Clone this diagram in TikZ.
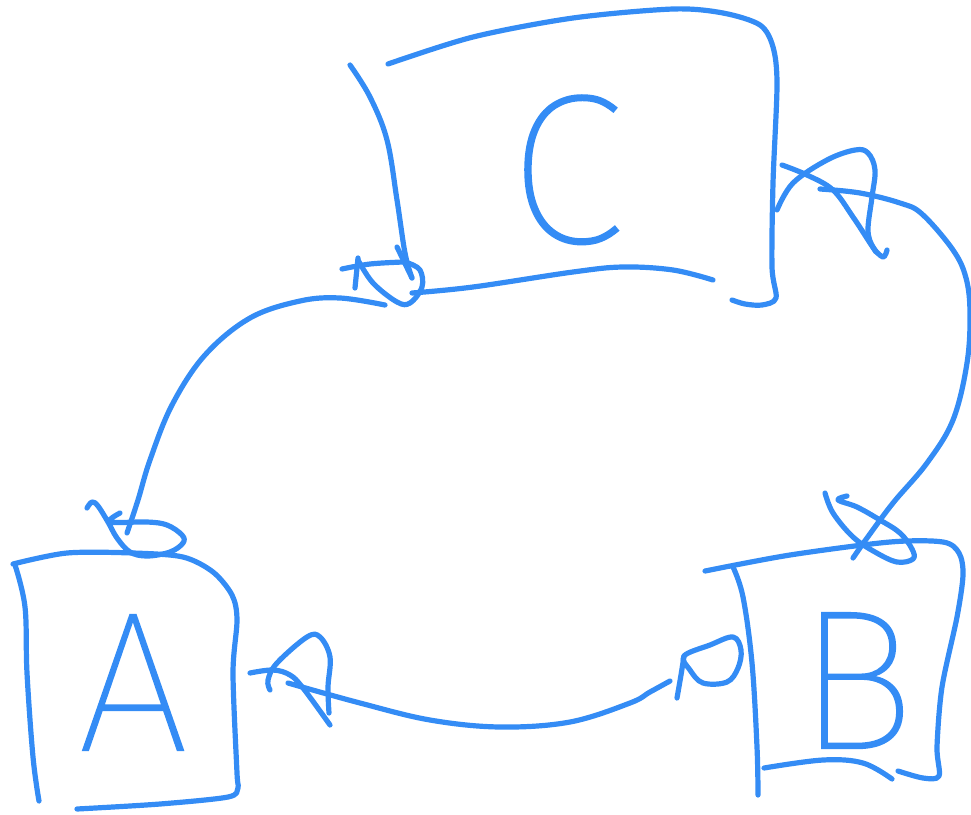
\documentclass[tikz,border=0pt]{standalone}
\usepackage{fontspec}
\usepackage{tikz}
\definecolor{sketchblue}{RGB}{52,140,245}
% thin sans for the box letters: first installed face of a list
\newcommand\pickletterfont[2]{\IfFontExistsTF{#1}{\newfontfamily\letterfont{#1}[FakeBold=1.2]}{#2}}
\pickletterfont{Fira Sans Thin}{%
 \pickletterfont{FiraSans-Thin.otf}{%
  \pickletterfont{FiraSans-Thin.ttf}{%
   \pickletterfont{Poppins Thin}{%
    \pickletterfont{Lato Thin}{%
     \pickletterfont{Lato Hairline}{%
      \pickletterfont{Fira Sans Light}{%
       \pickletterfont{Poppins Light}{%
        \pickletterfont{Open Sans Light}{%
         \newcommand\letterfont{\sffamily}}}}}}}}}}
\begin{document}
\begin{tikzpicture}[x=1pt,y=-1pt,
  ink/.style={draw=sketchblue, line width=5.2pt, line cap=round, line join=round},
  letter/.style={text=sketchblue, anchor=base, inner sep=0pt,
    font=\letterfont\fontsize{198}{198}\selectfont}]
\useasboundingbox (0,0) rectangle (971,814);

% ---- letters inside the three boxes ----
\node[letter] (A) at (133,750) {A};
\node[letter] (B) at (856,748) {B};
\node[letter, font=\letterfont\fontsize{212}{212}\selectfont] (C) at (566,242) {C};

% ---- connector end points ----
\coordinate (CtoAstart) at (385,305);
\coordinate (CtoAend)   at (127,533);
\coordinate (CtoBstart) at (820,189);
\coordinate (CtoBend)   at (853,558);
\coordinate (AtoBstart) at (288,683);
\coordinate (AtoBend)   at (670,681);

% ---- box C ----
\draw[ink] plot[smooth, tension=0.6] coordinates {(350,65) (370,97) (387,140) (397,200) (405,253) (412,278)};
\draw[ink] plot[smooth, tension=0.5] coordinates {(388,64) (473,37) (573,18) (673,9) (723,13) (760,25) (773,47) (777,85) (773,183) (772,267) (776,298) (762,305) (745,304) (732,300)};
\draw[ink] plot[smooth, tension=0.6] coordinates {(412,293) (473,287) (573,272) (623,267) (673,270) (713,280)};

% ---- box A ----
\draw[ink] plot[smooth, tension=0.5] coordinates {(13,564) (67,553) (133,553) (183,557) (213,572) (232,595) (237,620) (233,673) (237,773) (238,788) (228,797) (160,804) (77,809)};
\draw[ink] plot[smooth, tension=0.6] coordinates {(15,565) (25,607) (27,673) (33,757) (39,801)};

% ---- box B ----
\draw[ink] plot[smooth, tension=0.5] coordinates {(705,571) (790,555) (890,542) (943,542) (959,553) (963,575) (957,617) (942,687) (937,747) (939,776) (923,778) (898,771)};
\draw[ink] plot[smooth, tension=0.6] coordinates {(733,567) (743,597) (752,663) (757,747) (758,795)};
\draw[ink] plot[smooth, tension=0.6] coordinates {(764,768) (823,760) (863,763) (892,779)};

% ---- connector C -> A with its loop heads ----
\draw[ink] plot[smooth, tension=0.6] coordinates {(CtoAstart) (340,298) (300,301) (250,318) (205,355) (172,405) (150,460) (138,500) (CtoAend)};
\draw[ink] plot[smooth, tension=0.6] coordinates {(342,269) (370,264) (403,262)};
\draw[ink] (358,258) -- (355,288);
\draw[ink] plot[smooth, tension=0.6] coordinates {(358,260) (373,283) (397,302) (410,303) (422,287) (420,270) (408,263)};
\draw[ink] (397,247) -- (412,278);
\draw[ink] plot[smooth, tension=0.6] coordinates {(87,508) (92,502) (98,506) (108,522) (117,538) (130,552) (147,556) (170,552) (183,543) (182,535) (167,525) (147,522) (110,522) (120,513)};

% ---- connector C -> B with its loop heads ----
\draw[ink] plot[smooth, tension=0.6] coordinates {(CtoBstart) (860,193) (900,203) (922,214) (953,250) (966,278) (970,313) (967,363) (953,420) (927,463) (893,503) (867,538) (CtoBend)};
\draw[ink] plot[smooth, tension=0.6] coordinates {(777,210) (793,183) (827,160) (855,150) (868,153) (875,170) (872,197) (868,230) (873,247) (883,257) (887,250)};
\draw[ink] plot[smooth, tension=0.6] coordinates {(782,165) (807,175) (833,190) (853,217) (870,243) (876,252)};
\draw[ink] plot[smooth, tension=0.6] coordinates {(825,493) (833,513) (853,537) (875,552) (897,562) (913,559) (912,549) (900,533) (880,520) (857,507) (838,500) (847,496)};

% ---- connector A -> B with its loop heads ----
\draw[ink] plot[smooth, tension=0.6] coordinates {(AtoBstart) (360,703) (430,720) (500,727) (570,722) (630,703) (650,692) (AtoBend)};
\draw[ink] plot[smooth, tension=0.6] coordinates {(250,673) (273,670) (290,675) (303,688) (330,725)};
\draw[ink] plot[smooth, tension=0.6] coordinates {(270,690) (268,680) (277,663) (307,637) (320,637) (330,657) (328,687) (329,713)};
\draw[ink] plot[smooth, tension=0.6] coordinates {(677,698) (681,675) (684,656)};
\draw[ink] plot[smooth cycle, tension=0.6] coordinates {(684,656) (710,645) (733,637) (741,650) (738,668) (727,682) (703,683) (690,670)};
\end{tikzpicture}
\end{document}
